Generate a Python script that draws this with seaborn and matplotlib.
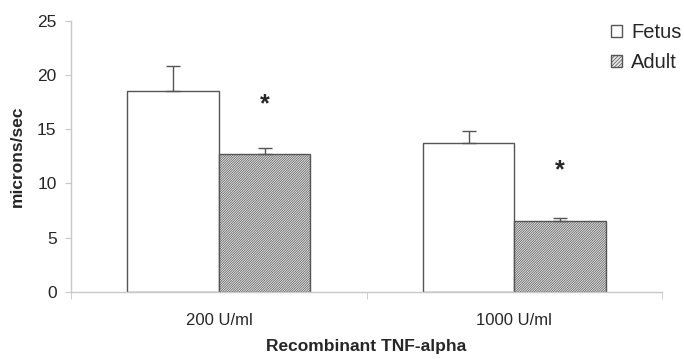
import pandas as pd
import matplotlib
matplotlib.use('Agg')
import matplotlib.pyplot as plt
import seaborn as sns
from matplotlib.patches import Patch

# data
doses = ['200 U/ml', '1000 U/ml']
groups = ['Fetus', 'Adult']
fetus_vals = [18.5, 13.75]
adult_vals = [12.75, 6.55]
fetus_err = [2.35, 1.05]
adult_err = [0.5, 0.25]
star_y = [17.3, 11.2]

sns.set_style('white')
plt.rcParams['font.family'] = ['Liberation Sans', 'DejaVu Sans']
plt.rcParams['hatch.color'] = '#9a9a9a'
plt.rcParams['hatch.linewidth'] = 0.5

HATCH = '/' * 14

df = pd.DataFrame({
    'dose': doses * 2,
    'group': ['Fetus'] * 2 + ['Adult'] * 2,
    'value': fetus_vals + adult_vals,
    'err': fetus_err + adult_err,
})

fig = plt.figure(figsize=(6.84, 3.59), dpi=100)
ax = fig.add_axes([0.104, 0.187, 0.864, 0.755])

sns.barplot(data=df, x='dose', y='value', hue='group', hue_order=groups,
            order=doses, palette=['white', '#e6e6e6'], width=0.62,
            edgecolor='#555555', linewidth=1.0, errorbar=None, legend=False, ax=ax)

# style bars + error bars (positions taken from drawn patches)
n = len(doses)
for i, bar in enumerate(ax.patches[:2 * n]):
    row = df.iloc[i]
    if row['group'] == 'Adult':
        bar.set_hatch(HATCH)
    cx = bar.get_x() + bar.get_width() / 2
    ax.errorbar(cx, row['value'], yerr=[[0], [row['err']]], fmt='none',
                ecolor='#555555', elinewidth=1.0, capsize=5, capthick=1.0)
    if row['group'] == 'Adult':
        ax.text(cx, star_y[i - n], '*', ha='center', va='center',
                fontsize=18, fontweight='bold')

ax.set_ylim(0, 25)
ax.set_xlim(-0.5, 1.5)
ax.set_yticks([0, 5, 10, 15, 20, 25])
ax.set_xticks([0, 1])
ax.set_xticklabels(doses)
ax.set_xticks([-0.5, 0.5, 1.5], minor=True)
ax.tick_params(axis='x', which='major', length=0, labelsize=12, pad=15)
ax.tick_params(axis='x', which='minor', length=5, color='#c8c8c8', bottom=True)
ax.tick_params(axis='y', length=4.5, color='#c8c8c8', labelsize=12.5, pad=6, left=True)

for s in ['top', 'right']:
    ax.spines[s].set_visible(False)
for s in ['left', 'bottom']:
    ax.spines[s].set_color('#c8c8c8')
    ax.spines[s].set_linewidth(1.0)

ax.set_ylabel('microns/sec', fontsize=12.5, fontweight='bold', labelpad=9)
ax.set_xlabel('Recombinant TNF-alpha', fontsize=12.5, fontweight='bold', labelpad=8)

handles = [Patch(facecolor='white', edgecolor='#555555', label='Fetus'),
           Patch(facecolor='#e6e6e6', edgecolor='#555555', hatch='/' * 9, label='Adult')]
fig.legend(handles=handles, loc='upper left', bbox_to_anchor=(0.893, 0.935),
           frameon=False, fontsize=14.5, handlelength=0.55, handleheight=0.55,
           handletextpad=0.45, labelspacing=0.55, borderaxespad=0, borderpad=0)

fig.savefig('out.png', dpi=100)
